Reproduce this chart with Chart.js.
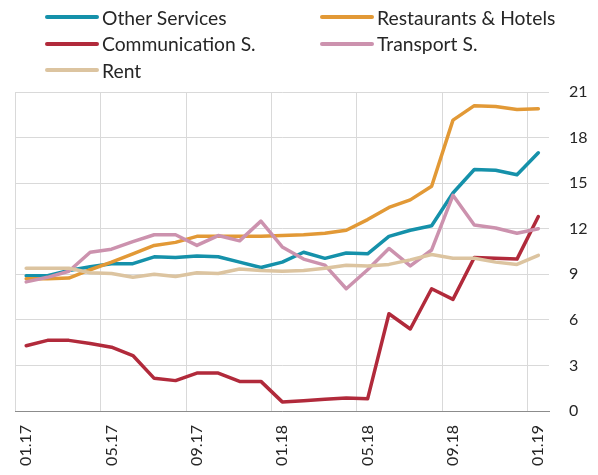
<!DOCTYPE html>
<html>
<head>
<meta charset="utf-8">
<script src="https://cdn.jsdelivr.net/npm/chart.js@4"></script>
<style>
  body { margin: 0; background: #fff; }
  #wrap { position: relative; width: 598px; height: 475px; }
  #legenda { position: absolute; left: 45px; top: 4px; width: 553px; font-family: Lato, sans-serif; font-size: 19.3px; color: #262626; }
  .item { position: absolute; display: flex; align-items: center; height: 26px; white-space: nowrap; }
  .item .linha { display: inline-block; width: 54px; height: 4px; border-radius: 2px; margin-right: 3px; }
</style>
</head>
<body>
<div id="wrap">
  <canvas id="grafico" width="598" height="475"></canvas>
  <div id="legenda"></div>
</div>
<script>
// meses 01.17 .. 01.19
const meses = ['01.17', '02.17', '03.17', '04.17', '05.17', '06.17', '07.17', '08.17', '09.17', '10.17', '11.17', '12.17',
  '01.18', '02.18', '03.18', '04.18', '05.18', '06.18', '07.18', '08.18', '09.18', '10.18', '11.18', '12.18', '01.19'];

const outrosServicos = [8.9, 8.9, 9.25, 9.5, 9.7, 9.7, 10.15, 10.1, 10.2, 10.15, 9.8, 9.45, 9.8,
  10.45, 10.05, 10.4, 10.35, 11.5, 11.9, 12.2, 14.35, 15.9, 15.85, 15.55, 17.0];
const restaurantes = [8.7, 8.7, 8.75, 9.3, 9.8, 10.35, 10.9, 11.1, 11.5, 11.5, 11.5, 11.5, 11.55,
  11.6, 11.7, 11.9, 12.6, 13.4, 13.9, 14.8, 19.15, 20.1, 20.05, 19.85, 19.9];
const comunicacao = [4.3, 4.65, 4.65, 4.45, 4.2, 3.65, 2.15, 2.0, 2.5, 2.5, 1.95, 1.95, 0.6,
  0.68, 0.78, 0.85, 0.8, 6.4, 5.4, 8.05, 7.35, 10.1, 10.05, 10.0, 12.8];
const transporte = [8.5, 8.8, 9.2, 10.45, 10.65, 11.15, 11.6, 11.6, 10.9, 11.55, 11.2, 12.5, 10.8,
  10.0, 9.6, 8.05, 9.3, 10.7, 9.55, 10.6, 14.2, 12.25, 12.05, 11.7, 12.0];
const aluguel = [9.4, 9.4, 9.4, 9.1, 9.05, 8.8, 9.0, 8.85, 9.1, 9.05, 9.35, 9.25, 9.2,
  9.25, 9.4, 9.6, 9.55, 9.65, 9.95, 10.3, 10.05, 10.05, 9.8, 9.65, 10.25];

const ticksY = [0, 3, 6, 9, 12, 15, 18, 21];

const series = [
  { label: 'Other Services', data: outrosServicos, cor: '#1591aa' },
  { label: 'Restaurants & Hotels', data: restaurantes, cor: '#e29936' },
  { label: 'Communication S.', data: comunicacao, cor: '#b12a3b' },
  { label: 'Transport S.', data: transporte, cor: '#cc92ae' },
  { label: 'Rent', data: aluguel, cor: '#dcc4a0' }
];

const fonte = { family: 'Lato, sans-serif', size: 16 };

new Chart(document.getElementById('grafico').getContext('2d'), {
  type: 'line',
  data: {
    labels: meses,
    datasets: series.map((s, i) => ({
      label: s.label,
      data: s.data,
      borderColor: s.cor,
      backgroundColor: s.cor,
      borderWidth: 3.5,
      pointRadius: 0,
      tension: 0,
      borderCapStyle: 'round',
      borderJoinStyle: 'round',
      order: series.length - i
    }))
  },
  options: {
    responsive: false,
    animation: false,
    layout: { padding: { top: 92, left: 15.5, right: 0, bottom: 0 } },
    plugins: { legend: { display: false }, tooltip: { enabled: false } },
    scales: {
      x: {
        type: 'category',
        offset: true,
        afterFit: (scale) => { scale.height = 64; },
        grid: {
          offset: true,
          drawTicks: false,
          lineWidth: 1,
          color: (ctx) => (ctx.index !== undefined && ctx.index % 4 === 0) ? '#d9d9d9' : 'rgba(0,0,0,0)'
        },
        border: { display: true, color: '#8c8c8c', width: 1 },
        ticks: {
          autoSkip: false,
          minRotation: 90,
          maxRotation: 90,
          padding: 14,
          color: '#262626',
          font: fonte,
          callback: function (valor, indice) {
            return indice % 4 === 0 ? meses[indice] : '';
          }
        }
      },
      y: {
        position: 'right',
        min: 0,
        max: 21,
        afterFit: (scale) => { scale.width = 49; },
        afterBuildTicks: (scale) => { scale.ticks = ticksY.map(v => ({ value: v })); },
        grid: { drawTicks: false, color: '#d9d9d9', lineWidth: 1 },
        border: { display: false },
        ticks: { padding: 20, color: '#262626', font: fonte }
      }
    }
  }
});

// legenda em duas colunas
const legenda = document.getElementById('legenda');
series.forEach((s, i) => {
  const item = document.createElement('div');
  item.className = 'item';
  item.style.left = (i % 2 === 0 ? 0 : 275) + 'px';
  item.style.top = (Math.floor(i / 2) * 26.5) + 'px';
  const linha = document.createElement('span');
  linha.className = 'linha';
  linha.style.background = s.cor;
  const texto = document.createElement('span');
  texto.textContent = s.label;
  item.appendChild(linha);
  item.appendChild(texto);
  legenda.appendChild(item);
});
</script>
</body>
</html>
